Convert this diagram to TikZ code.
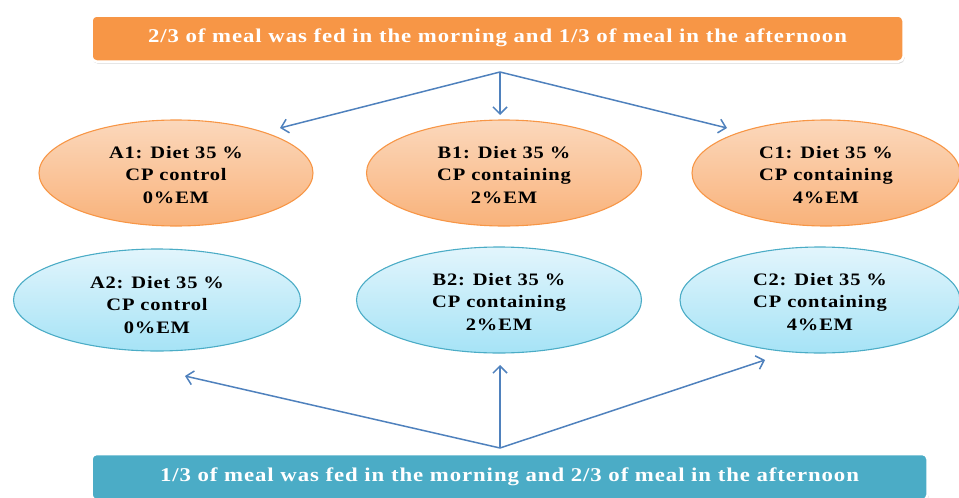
\documentclass[tikz,border=0pt]{standalone}
\usepackage{fontspec}
\usepackage{graphicx}
\setmainfont{Liberation Serif}
\usetikzlibrary{shapes.geometric,arrows.meta,shadows}
\definecolor{orfill}{HTML}{F79646}
\definecolor{blfill}{HTML}{4BACC6}
\definecolor{arrowc}{HTML}{4F81BD}
\definecolor{ortop}{HTML}{FBD8BC}
\definecolor{orbot}{HTML}{F9B27A}
\definecolor{bltop}{HTML}{E2F5FC}
\definecolor{blbot}{HTML}{A6E3F6}
\newcommand{\stretchtxt}[1]{\scalebox{1.17}[1]{\begin{tabular}{@{}c@{}}#1\end{tabular}}}
\newcommand{\ovtxt}[2]{\raisebox{-#1}[\height][\depth]{\stretchtxt{#2}}}
\tikzset{
  banner/.style={rounded corners=5pt, draw=white, line width=2.5pt,
    drop shadow={opacity=0.3, shadow xshift=1pt, shadow yshift=-2pt},
    text=white, font=\bfseries\fontsize{19.5}{22}\selectfont\addfontfeatures{LetterSpace=4}, inner sep=0pt},
  oval/.style={ellipse, line width=1.1pt, align=center, inner sep=0pt,
    font=\bfseries\fontsize{17.5}{22.5}\selectfont\addfontfeatures{LetterSpace=4}, text=black},
  ovalo/.style={oval, draw=orfill, top color=ortop, bottom color=orbot},
  ovalb/.style={oval, draw=blfill, top color=bltop, bottom color=blbot},
  conn/.style={draw=arrowc, line width=1.5pt, -{Straight Barb[length=7pt,width=14pt,line width=1.5pt]}}
}
\begin{document}
\begin{tikzpicture}[x=1pt,y=-1pt]
\useasboundingbox (0,0) rectangle (959,498);
% top banner
\node[banner, fill=orfill, minimum width=812pt, minimum height=46pt] (top) at (497.5,38.5)
  {\stretchtxt{2/3 of meal was fed in the morning and 1/3 of meal in the afternoon}};
% bottom banner
\node[banner, fill=blfill, minimum width=836pt, minimum height=46pt] (bot) at (509.5,477)
  {\stretchtxt{1/3 of meal was fed in the morning and 2/3 of meal in the afternoon}};
% ellipses row 1
\node[ovalo, minimum width=274pt, minimum height=106pt] (a1) at (176,173)
  {\ovtxt{3pt}{A1: Diet 35 \%\\CP control\\0\%EM}};
\node[ovalo, minimum width=275pt, minimum height=106pt] (b1) at (504,173)
  {\ovtxt{3pt}{B1: Diet 35 \%\\CP containing\\2\%EM}};
\node[ovalo, minimum width=268pt, minimum height=106pt] (c1) at (826,173)
  {\ovtxt{3pt}{C1: Diet 35 \%\\CP containing\\4\%EM}};
% ellipses row 2
\node[ovalb, minimum width=287pt, minimum height=102pt] (a2) at (157,300)
  {\ovtxt{6pt}{A2: Diet 35 \%\\CP control\\0\%EM}};
\node[ovalb, minimum width=285pt, minimum height=106pt] (b2) at (499,300)
  {\ovtxt{3pt}{B2: Diet 35 \%\\CP containing\\2\%EM}};
\node[ovalb, minimum width=280pt, minimum height=106pt] (c2) at (820,300)
  {\ovtxt{3pt}{C2: Diet 35 \%\\CP containing\\4\%EM}};
% connector hubs
\coordinate (ts) at (500,72);
\coordinate (bs) at (500,448);
\coordinate (ta) at (280,128);
\coordinate (tb) at (500,115);
\coordinate (tc) at (727,128);
\coordinate (ba) at (185,376);
\coordinate (bb) at (500,365);
\coordinate (bc) at (765,360);
\draw[conn] (ts) -- (ta);
\draw[conn] (ts) -- (tb);
\draw[conn] (ts) -- (tc);
\draw[conn] (bs) -- (ba);
\draw[conn] (bs) -- (bb);
\draw[conn] (bs) -- (bc);
\end{tikzpicture}
\end{document}
